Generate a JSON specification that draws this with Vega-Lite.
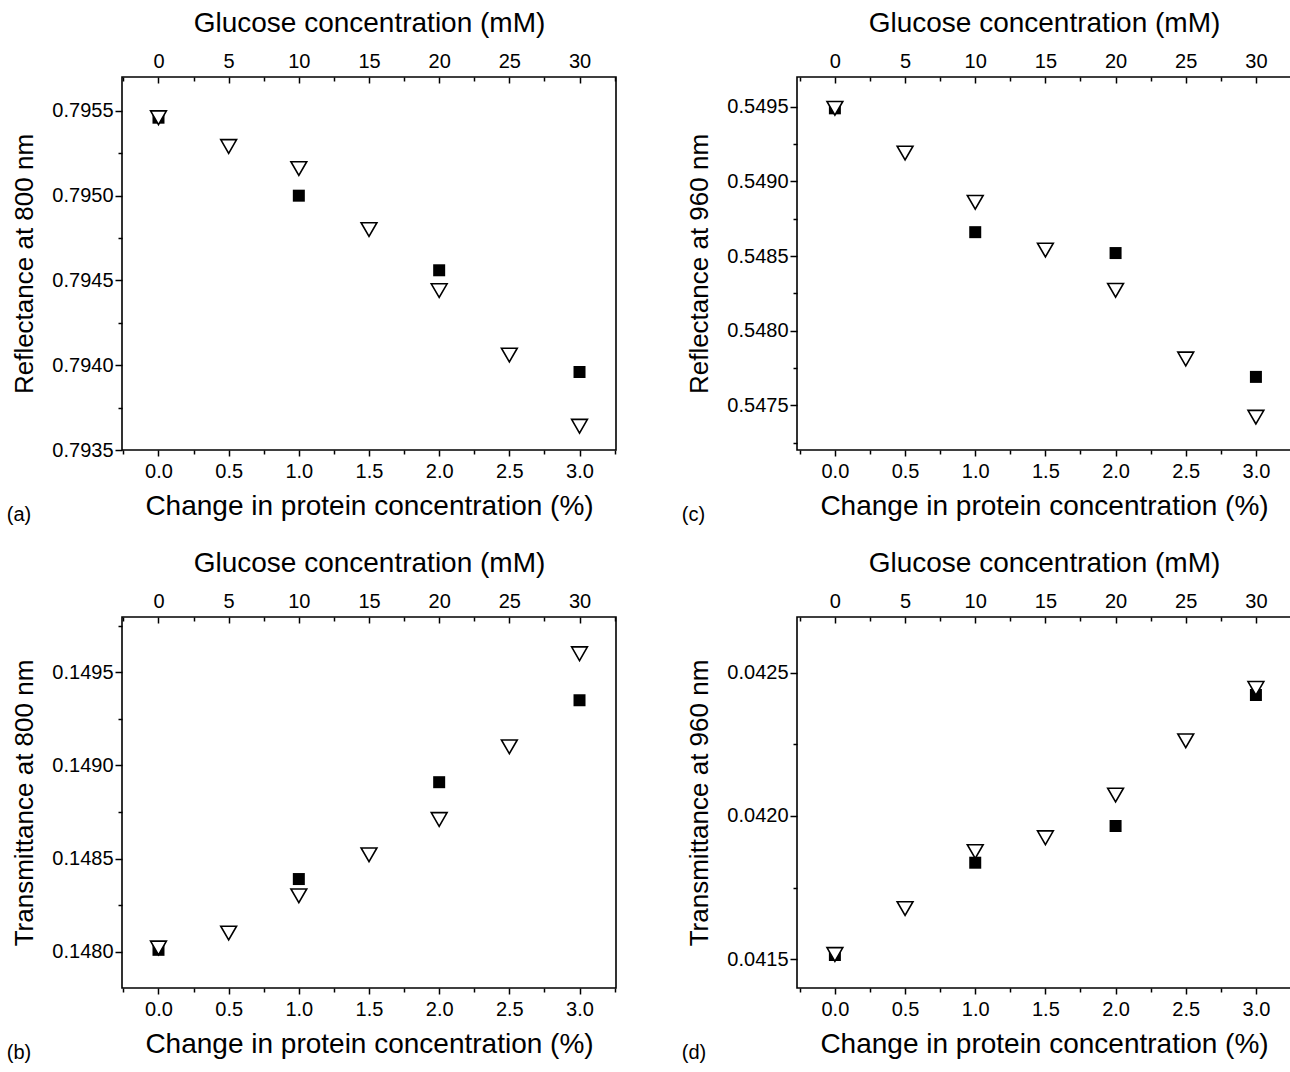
{
  "$schema": "https://vega.github.io/schema/vega-lite/v6.json",
  "autosize": {"type": "none"},
  "padding": {"left": 122, "top": 77, "right": 1168, "bottom": 995},
  "background": "white",
  "config": {
    "font": "Liberation Sans",
    "view": {"stroke": "black", "strokeWidth": 1.6},
    "axis": {"grid": false, "domain": false, "tickColor": "black", "tickWidth": 1.5, "labelColor": "black", "titleColor": "black", "labelFont": "Liberation Sans", "titleFont": "Liberation Sans", "labelFontSize": 20, "titleFontWeight": "normal", "labelOverlap": false, "labelFlush": false, "labelBound": false},
    "title": {"font": "Liberation Sans", "fontWeight": "normal", "color": "black"}
  },
  "datasets": {
    "pts": [
      {"panel": "a", "series": "A", "protein": 0.0, "value": 0.79546},
      {"panel": "a", "series": "A", "protein": 1.0, "value": 0.79500},
      {"panel": "a", "series": "A", "protein": 2.0, "value": 0.79456},
      {"panel": "a", "series": "A", "protein": 3.0, "value": 0.79396},
      {"panel": "a", "series": "B", "protein": 0.0, "value": 0.79546},
      {"panel": "a", "series": "B", "protein": 0.5, "value": 0.79529},
      {"panel": "a", "series": "B", "protein": 1.0, "value": 0.79516},
      {"panel": "a", "series": "B", "protein": 1.5, "value": 0.79480},
      {"panel": "a", "series": "B", "protein": 2.0, "value": 0.79444},
      {"panel": "a", "series": "B", "protein": 2.5, "value": 0.79406},
      {"panel": "a", "series": "B", "protein": 3.0, "value": 0.79364},
      {"panel": "c", "series": "A", "protein": 0.0, "value": 0.54949},
      {"panel": "c", "series": "A", "protein": 1.0, "value": 0.54866},
      {"panel": "c", "series": "A", "protein": 2.0, "value": 0.54852},
      {"panel": "c", "series": "A", "protein": 3.0, "value": 0.54769},
      {"panel": "c", "series": "B", "protein": 0.0, "value": 0.54949},
      {"panel": "c", "series": "B", "protein": 0.5, "value": 0.54919},
      {"panel": "c", "series": "B", "protein": 1.0, "value": 0.54886},
      {"panel": "c", "series": "B", "protein": 1.5, "value": 0.54854},
      {"panel": "c", "series": "B", "protein": 2.0, "value": 0.54827},
      {"panel": "c", "series": "B", "protein": 2.5, "value": 0.54781},
      {"panel": "c", "series": "B", "protein": 3.0, "value": 0.54742},
      {"panel": "b", "series": "A", "protein": 0.0, "value": 0.14801},
      {"panel": "b", "series": "A", "protein": 1.0, "value": 0.14839},
      {"panel": "b", "series": "A", "protein": 2.0, "value": 0.14891},
      {"panel": "b", "series": "A", "protein": 3.0, "value": 0.14935},
      {"panel": "b", "series": "B", "protein": 0.0, "value": 0.14802},
      {"panel": "b", "series": "B", "protein": 0.5, "value": 0.14810},
      {"panel": "b", "series": "B", "protein": 1.0, "value": 0.14830},
      {"panel": "b", "series": "B", "protein": 1.5, "value": 0.14852},
      {"panel": "b", "series": "B", "protein": 2.0, "value": 0.14871},
      {"panel": "b", "series": "B", "protein": 2.5, "value": 0.14910},
      {"panel": "b", "series": "B", "protein": 3.0, "value": 0.14960},
      {"panel": "d", "series": "A", "protein": 0.0, "value": 0.041515},
      {"panel": "d", "series": "A", "protein": 1.0, "value": 0.041837},
      {"panel": "d", "series": "A", "protein": 2.0, "value": 0.041965},
      {"panel": "d", "series": "A", "protein": 3.0, "value": 0.042422},
      {"panel": "d", "series": "B", "protein": 0.0, "value": 0.041517},
      {"panel": "d", "series": "B", "protein": 0.5, "value": 0.041677},
      {"panel": "d", "series": "B", "protein": 1.0, "value": 0.041876},
      {"panel": "d", "series": "B", "protein": 1.5, "value": 0.041924},
      {"panel": "d", "series": "B", "protein": 2.0, "value": 0.042073},
      {"panel": "d", "series": "B", "protein": 2.5, "value": 0.042262},
      {"panel": "d", "series": "B", "protein": 3.0, "value": 0.042445}
    ]
  },
  "data": {"name": "pts"},
  "columns": 2,
  "spacing": {"column": 181, "row": 167},
  "bounds": "flush",
  "concat": [
    {
      "width": 494, "height": 373,
      "title": {"text": "(a)", "orient": "bottom", "anchor": "start", "frame": "bounds", "fontSize": 20, "offset": -15, "dx": -5},
      "layer": [
        {
          "transform": [{"filter": "datum.panel == 'a' && datum.series == 'A'"}],
          "mark": {"type": "point", "shape": "square", "filled": true, "color": "black", "size": 144, "opacity": 1},
          "encoding": {
            "x": {"field": "protein", "type": "quantitative", "scale": {"domain": [-0.26, 3.26], "nice": false, "zero": false},
              "axis": {"orient": "bottom", "title": "Change in protein concentration (%)", "titleFontSize": 28, "titlePadding": 11, "labelPadding": 5,
                "values": [-0.25, 0, 0.25, 0.5, 0.75, 1, 1.25, 1.5, 1.75, 2, 2.25, 2.5, 2.75, 3, 3.25],
                "labelExpr": "(abs(datum.value*2 - round(datum.value*2)) < 0.001 && datum.value > -0.01 && datum.value < 3.01) ? format(datum.value, '.1f') : ''",
                "tickSize": {"condition": {"test": "abs(datum.value*2 - round(datum.value*2)) < 0.001", "value": 6}, "value": 4}}},
            "y": {"field": "value", "type": "quantitative", "scale": {"domain": [0.7935, 0.7957], "nice": false, "zero": false},
              "axis": {"orient": "left", "title": "Reflectance at 800 nm", "titleFontSize": 26, "titlePadding": 14, "labelPadding": 2,
                "values": [0.7935, 0.79375, 0.794, 0.79425, 0.7945, 0.79475, 0.795, 0.79525, 0.7955],
                "labelExpr": "round(datum.value*10000) % 5 == 0 ? format(datum.value, '.4f') : ''",
                "tickSize": {"condition": {"test": "round(datum.value*10000) % 5 == 0", "value": 7}, "value": 4}}}
          }
        },
        {
          "transform": [{"filter": "datum.panel == 'a' && datum.series == 'B'"}],
          "mark": {"type": "point", "shape": "triangle-down", "filled": true, "fill": "white", "stroke": "black", "strokeWidth": 1.6, "size": 250, "opacity": 1},
          "encoding": {
            "x": {"field": "protein", "type": "quantitative",
              "axis": {"orient": "top", "title": "Glucose concentration (mM)", "titleFontSize": 28, "titlePadding": 12, "labelPadding": 12,
                "values": [-0.25, 0, 0.25, 0.5, 0.75, 1, 1.25, 1.5, 1.75, 2, 2.25, 2.5, 2.75, 3, 3.25],
                "labelExpr": "(abs(datum.value*2 - round(datum.value*2)) < 0.001 && datum.value > -0.01 && datum.value < 3.01) ? format(datum.value*10, 'd') : ''",
                "tickSize": {"condition": {"test": "abs(datum.value*2 - round(datum.value*2)) < 0.001", "value": -6}, "value": -4}}},
            "y": {"field": "value", "type": "quantitative", "axis": null}
          }
        }
      ],
      "resolve": {"axis": {"x": "independent", "y": "independent"}}
    },
    {
      "width": 494, "height": 373,
      "title": {"text": "(c)", "orient": "bottom", "anchor": "start", "frame": "bounds", "fontSize": 20, "offset": -15, "dx": -5},
      "layer": [
        {
          "transform": [{"filter": "datum.panel == 'c' && datum.series == 'A'"}],
          "mark": {"type": "point", "shape": "square", "filled": true, "color": "black", "size": 144, "opacity": 1},
          "encoding": {
            "x": {"field": "protein", "type": "quantitative", "scale": {"domain": [-0.27, 3.25], "nice": false, "zero": false},
              "axis": {"orient": "bottom", "title": "Change in protein concentration (%)", "titleFontSize": 28, "titlePadding": 11, "labelPadding": 5,
                "values": [-0.25, 0, 0.25, 0.5, 0.75, 1, 1.25, 1.5, 1.75, 2, 2.25, 2.5, 2.75, 3, 3.25],
                "labelExpr": "(abs(datum.value*2 - round(datum.value*2)) < 0.001 && datum.value > -0.01 && datum.value < 3.01) ? format(datum.value, '.1f') : ''",
                "tickSize": {"condition": {"test": "abs(datum.value*2 - round(datum.value*2)) < 0.001", "value": 6}, "value": 4}}},
            "y": {"field": "value", "type": "quantitative", "scale": {"domain": [0.5472, 0.5497], "nice": false, "zero": false},
              "axis": {"orient": "left", "title": "Reflectance at 960 nm", "titleFontSize": 26, "titlePadding": 14, "labelPadding": 2,
                "values": [0.54725, 0.5475, 0.54775, 0.548, 0.54825, 0.5485, 0.54875, 0.549, 0.54925, 0.5495],
                "labelExpr": "round(datum.value*10000) % 5 == 0 ? format(datum.value, '.4f') : ''",
                "tickSize": {"condition": {"test": "round(datum.value*10000) % 5 == 0", "value": 7}, "value": 4}}}
          }
        },
        {
          "transform": [{"filter": "datum.panel == 'c' && datum.series == 'B'"}],
          "mark": {"type": "point", "shape": "triangle-down", "filled": true, "fill": "white", "stroke": "black", "strokeWidth": 1.6, "size": 250, "opacity": 1},
          "encoding": {
            "x": {"field": "protein", "type": "quantitative",
              "axis": {"orient": "top", "title": "Glucose concentration (mM)", "titleFontSize": 28, "titlePadding": 12, "labelPadding": 12,
                "values": [-0.25, 0, 0.25, 0.5, 0.75, 1, 1.25, 1.5, 1.75, 2, 2.25, 2.5, 2.75, 3, 3.25],
                "labelExpr": "(abs(datum.value*2 - round(datum.value*2)) < 0.001 && datum.value > -0.01 && datum.value < 3.01) ? format(datum.value*10, 'd') : ''",
                "tickSize": {"condition": {"test": "abs(datum.value*2 - round(datum.value*2)) < 0.001", "value": -6}, "value": -4}}},
            "y": {"field": "value", "type": "quantitative", "axis": null}
          }
        }
      ],
      "resolve": {"axis": {"x": "independent", "y": "independent"}}
    },
    {
      "width": 494, "height": 371,
      "title": {"text": "(b)", "orient": "bottom", "anchor": "start", "frame": "bounds", "fontSize": 20, "offset": -15, "dx": -5},
      "layer": [
        {
          "transform": [{"filter": "datum.panel == 'b' && datum.series == 'A'"}],
          "mark": {"type": "point", "shape": "square", "filled": true, "color": "black", "size": 144, "opacity": 1},
          "encoding": {
            "x": {"field": "protein", "type": "quantitative", "scale": {"domain": [-0.26, 3.26], "nice": false, "zero": false},
              "axis": {"orient": "bottom", "title": "Change in protein concentration (%)", "titleFontSize": 28, "titlePadding": 11, "labelPadding": 5,
                "values": [-0.25, 0, 0.25, 0.5, 0.75, 1, 1.25, 1.5, 1.75, 2, 2.25, 2.5, 2.75, 3, 3.25],
                "labelExpr": "(abs(datum.value*2 - round(datum.value*2)) < 0.001 && datum.value > -0.01 && datum.value < 3.01) ? format(datum.value, '.1f') : ''",
                "tickSize": {"condition": {"test": "abs(datum.value*2 - round(datum.value*2)) < 0.001", "value": 6}, "value": 4}}},
            "y": {"field": "value", "type": "quantitative", "scale": {"domain": [0.147805, 0.149797], "nice": false, "zero": false},
              "axis": {"orient": "left", "title": "Transmittance at 800 nm", "titleFontSize": 26, "titlePadding": 14, "labelPadding": 2,
                "values": [0.148, 0.14825, 0.1485, 0.14875, 0.149, 0.14925, 0.1495, 0.14975],
                "labelExpr": "round(datum.value*10000) % 5 == 0 ? format(datum.value, '.4f') : ''",
                "tickSize": {"condition": {"test": "round(datum.value*10000) % 5 == 0", "value": 7}, "value": 4}}}
          }
        },
        {
          "transform": [{"filter": "datum.panel == 'b' && datum.series == 'B'"}],
          "mark": {"type": "point", "shape": "triangle-down", "filled": true, "fill": "white", "stroke": "black", "strokeWidth": 1.6, "size": 250, "opacity": 1},
          "encoding": {
            "x": {"field": "protein", "type": "quantitative",
              "axis": {"orient": "top", "title": "Glucose concentration (mM)", "titleFontSize": 28, "titlePadding": 12, "labelPadding": 12,
                "values": [-0.25, 0, 0.25, 0.5, 0.75, 1, 1.25, 1.5, 1.75, 2, 2.25, 2.5, 2.75, 3, 3.25],
                "labelExpr": "(abs(datum.value*2 - round(datum.value*2)) < 0.001 && datum.value > -0.01 && datum.value < 3.01) ? format(datum.value*10, 'd') : ''",
                "tickSize": {"condition": {"test": "abs(datum.value*2 - round(datum.value*2)) < 0.001", "value": -6}, "value": -4}}},
            "y": {"field": "value", "type": "quantitative", "axis": null}
          }
        }
      ],
      "resolve": {"axis": {"x": "independent", "y": "independent"}}
    },
    {
      "width": 494, "height": 371,
      "title": {"text": "(d)", "orient": "bottom", "anchor": "start", "frame": "bounds", "fontSize": 20, "offset": -15, "dx": -5},
      "layer": [
        {
          "transform": [{"filter": "datum.panel == 'd' && datum.series == 'A'"}],
          "mark": {"type": "point", "shape": "square", "filled": true, "color": "black", "size": 144, "opacity": 1},
          "encoding": {
            "x": {"field": "protein", "type": "quantitative", "scale": {"domain": [-0.27, 3.25], "nice": false, "zero": false},
              "axis": {"orient": "bottom", "title": "Change in protein concentration (%)", "titleFontSize": 28, "titlePadding": 11, "labelPadding": 5,
                "values": [-0.25, 0, 0.25, 0.5, 0.75, 1, 1.25, 1.5, 1.75, 2, 2.25, 2.5, 2.75, 3, 3.25],
                "labelExpr": "(abs(datum.value*2 - round(datum.value*2)) < 0.001 && datum.value > -0.01 && datum.value < 3.01) ? format(datum.value, '.1f') : ''",
                "tickSize": {"condition": {"test": "abs(datum.value*2 - round(datum.value*2)) < 0.001", "value": 6}, "value": 4}}},
            "y": {"field": "value", "type": "quantitative", "scale": {"domain": [0.0414, 0.042694], "nice": false, "zero": false},
              "axis": {"orient": "left", "title": "Transmittance at 960 nm", "titleFontSize": 26, "titlePadding": 14, "labelPadding": 2,
                "values": [0.0415, 0.04175, 0.042, 0.04225, 0.0425],
                "labelExpr": "round(datum.value*10000) % 5 == 0 ? format(datum.value, '.4f') : ''",
                "tickSize": {"condition": {"test": "round(datum.value*10000) % 5 == 0", "value": 7}, "value": 4}}}
          }
        },
        {
          "transform": [{"filter": "datum.panel == 'd' && datum.series == 'B'"}],
          "mark": {"type": "point", "shape": "triangle-down", "filled": true, "fill": "white", "stroke": "black", "strokeWidth": 1.6, "size": 250, "opacity": 1},
          "encoding": {
            "x": {"field": "protein", "type": "quantitative",
              "axis": {"orient": "top", "title": "Glucose concentration (mM)", "titleFontSize": 28, "titlePadding": 12, "labelPadding": 12,
                "values": [-0.25, 0, 0.25, 0.5, 0.75, 1, 1.25, 1.5, 1.75, 2, 2.25, 2.5, 2.75, 3, 3.25],
                "labelExpr": "(abs(datum.value*2 - round(datum.value*2)) < 0.001 && datum.value > -0.01 && datum.value < 3.01) ? format(datum.value*10, 'd') : ''",
                "tickSize": {"condition": {"test": "abs(datum.value*2 - round(datum.value*2)) < 0.001", "value": -6}, "value": -4}}},
            "y": {"field": "value", "type": "quantitative", "axis": null}
          }
        }
      ],
      "resolve": {"axis": {"x": "independent", "y": "independent"}}
    }
  ]
}
